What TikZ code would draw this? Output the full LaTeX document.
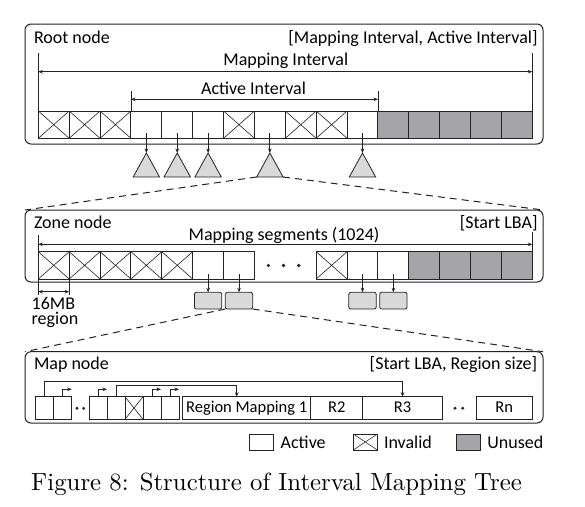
\documentclass[tikz,border=0pt]{standalone}
\usepackage{fontspec}
\setsansfont{Carlito}
\newfontfamily\capfont{lmroman10-regular}[Extension=.otf]
\usetikzlibrary{arrows.meta,calc}
\definecolor{ln}{RGB}{35,35,35}
\definecolor{unusedc}{RGB}{165,164,168}
\definecolor{lite}{RGB}{217,217,217}
\tikzset{
  panel/.style={draw=ln, line width=1pt, rounded corners=6pt, inner sep=0, outer sep=0, anchor=north west},
  cellbox/.style={draw=ln, line width=0.9pt, minimum width=30.875pt, minimum height=27.3pt, inner sep=0, outer sep=0, anchor=north west},
  mcell/.style={draw=ln, line width=0.9pt, minimum width=18pt, minimum height=22.6pt, inner sep=0, outer sep=0, anchor=north west},
  rbox/.style={draw=ln, line width=0.9pt, minimum height=22.6pt, inner sep=0, outer sep=0, anchor=north west, text height=12.6pt, text depth=4pt, font=\sffamily\fontsize{16.5}{19}\selectfont},
  active/.style={},
  invalid/.style={path picture={\draw[ln, line width=0.6pt] (path picture bounding box.north west)--(path picture bounding box.south east) (path picture bounding box.south west)--(path picture bounding box.north east);}},
  unused/.style={fill=unusedc},
  gbox/.style={draw=ln, line width=0.8pt, fill=lite, rounded corners=2pt, minimum width=27.4pt, minimum height=16.7pt, inner sep=0, outer sep=0, anchor=north},
  legbox/.style={draw=ln, line width=0.8pt, minimum width=24pt, minimum height=16pt, inner sep=0, outer sep=0, anchor=north west},
  arr/.style={draw=ln, line width=0.8pt, -{Stealth[length=4.5pt,width=3.6pt]}},
  dimarr/.style={draw=ln, line width=0.8pt, {Stealth[length=4.5pt,width=3.6pt]}-{Stealth[length=4.5pt,width=3.6pt]}},
  plain/.style={draw=ln, line width=0.8pt},
  tri/.style={draw=ln, line width=0.8pt, fill=lite},
  dashline/.style={draw=ln, line width=1pt, dash pattern=on 7pt off 5pt},
  lab/.style={inner sep=0, outer sep=0},
  dotc/.style={fill=ln, draw=none}
}
\begin{document}
\begin{tikzpicture}[x=1pt,y=-1pt, font=\sffamily\fontsize{18}{21}\selectfont]
\useasboundingbox[fill=white] (0,0) rectangle (585,506);

% ---------------- Root node
\node[panel, minimum width=518pt, minimum height=120pt] (root) at (25,24) {};
\node[lab, anchor=base west] (rootlab) at (34,43.5) {Root node};
\node[lab, anchor=base east] (rootpar) at (537.5,43.5) {[Mapping Interval, Active Interval]};
\foreach \i/\t in {0/invalid,1/invalid,2/invalid,3/active,4/active,5/active,6/invalid,7/active,8/invalid,9/invalid,10/active,11/unused,12/unused,13/unused,14/unused,15/unused}
  \node[cellbox,\t] (r\i) at ({38.3+\i*30.875},111) {};
% mapping interval
\coordinate (miL) at (38.3,53);
\coordinate (miR) at (532.3,53);
\draw[plain] (miL) -- (r0.north west);
\draw[plain] (miR) -- (r15.north east);
\coordinate (miaL) at (38.3,71.7);
\coordinate (miaR) at (532.3,71.7);
\draw[dimarr] (miaL) -- (miaR);
\node[lab, anchor=base] (milab) at (285.8,65.7) {Mapping Interval};
% active interval
\coordinate (aiL) at (130.925,91);
\coordinate (aiR) at (377.925,91);
\draw[plain] (aiL) -- (r3.north west);
\draw[plain] (aiR) -- (r11.north west);
\coordinate (aiaL) at (130.925,99.3);
\coordinate (aiaR) at (377.925,99.3);
\draw[dimarr] (aiaL) -- (aiaR);
\node[lab, anchor=base] (ailab) at (253.5,94) {Active Interval};
% triangles
\foreach \k in {3,4,5,7,10}{
  \coordinate (t\k a) at ($(r\k.south)+(0,14.7)$);
  \coordinate (t\k l) at ($(r\k.south)+(-13.2,38.7)$);
  \coordinate (t\k r) at ($(r\k.south)+(13.2,38.7)$);
  \draw[tri] (t\k a) -- (t\k r) -- (t\k l) -- cycle;
  \draw[arr] ([yshift=5pt]r\k.south) -- (t\k a);
}

% ---------------- Zone node
\node[panel, minimum width=518pt, minimum height=72pt] (zone) at (25,210) {};
\draw[dashline] (t7l) -- (zone.north west);
\draw[dashline] (t7r) -- (zone.north east);
\node[lab, anchor=base west] (zonelab) at (34,228.3) {Zone node};
\node[lab, anchor=base east] (zonepar) at (537.5,228.3) {[Start LBA]};
\foreach \i/\t in {0/invalid,1/invalid,2/invalid,3/invalid,4/invalid,5/active,6/active,9/invalid,10/active,11/active,12/unused,13/unused,14/unused,15/unused}
  \node[cellbox,\t] (z\i) at ({38.3+\i*30.875},251.7) {};
\foreach \x in {268.3,283.5,298.7}
  \fill[dotc] (\x,265.5) circle (1.8pt);
\coordinate (msL) at (38.3,235);
\coordinate (msR) at (532.3,232);
\draw[plain] (msL) -- (z0.north west);
\draw[plain] (msR) -- (z15.north east);
\coordinate (msaL) at (38.3,244.3);
\coordinate (msaR) at (532.3,244.3);
\draw[dimarr] (msaL) -- (msaR);
\node[lab, anchor=base] (mslab) at (284,240) {Mapping segments (1024)};
% 16MB region
\coordinate (rgL) at (38.3,294.5);
\coordinate (rgR) at (69.175,294.5);
\draw[plain] (z0.south west) -- (rgL);
\draw[plain] (z0.south east) -- (rgR);
\coordinate (rgaL) at (38.3,291.7);
\coordinate (rgaR) at (69.175,291.7);
\draw[dimarr] (rgaL) -- (rgaR);
\node[lab, anchor=north west, align=left, font=\sffamily\fontsize{18}{18}\selectfont] (rglab) at (31.7,297.6) {16MB\\[-3.2pt]region};
% gray boxes
\foreach \k/\g in {5/1,6/2,10/3,11/4}{
  \node[gbox] (g\g) at ($(z\k.south)+(0,13.3)$) {};
  \draw[arr] ([yshift=5pt]z\k.south) -- (g\g.north);
}

% ---------------- Map node
\node[panel, minimum width=518pt, minimum height=71.3pt] (map) at (25,351.7) {};
\draw[dashline] (g2.south west) -- (map.north west);
\draw[dashline] (g2.south east) -- (map.north east);
\node[lab, anchor=base west] (maplab) at (34,369.3) {Map node};
\node[lab, anchor=base east] (mappar) at (537,369.3) {[Start LBA, Region size]};
\node[mcell] (m0) at (35.7,396.7) {};
\node[mcell] (m1) at (53.7,396.7) {};
\fill[dotc] (77,408.3) circle (1.6pt);
\fill[dotc] (83.7,408.3) circle (1.6pt);
\node[mcell] (m2) at (89,396.7) {};
\node[mcell] (m3) at (107,396.7) {};
\node[mcell,invalid] (m4) at (125,396.7) {};
\node[mcell] (m5) at (143,396.7) {};
\node[mcell] (m6) at (161,396.7) {};
\node[rbox, minimum width=128pt] (rm1) at (182.7,396.7) {Region Mapping 1};
\node[rbox, minimum width=52pt] (rr2) at (310.7,396.7) {R2};
\node[rbox, minimum width=79.6pt] (rr3) at (362.7,396.7) {R3};
\fill[dotc] (455,408.3) circle (1.6pt);
\fill[dotc] (462.7,408.3) circle (1.6pt);
\node[rbox, minimum width=56.3pt] (rrn) at (476,396.7) {Rn};
\draw[arr] (m0.north) -- ++(0,-15) -| (rr3.north);
\draw[arr] (m3.north) -- ++(0,-11.7) -| ([xshift=-10pt]rm1.north);
\foreach \k in {1,2,5,6}
  \draw[arr] (m\k.north) |- ([yshift=7.4pt]m\k.north east);

% ---------------- Legend
\node[legbox] (lga) at (249.3,434) {};
\node[lab, anchor=west] (lgat) at (280.7,442) {Active};
\node[legbox,invalid] (lgi) at (353.3,434) {};
\node[lab, anchor=west] (lgit) at (384,442) {Invalid};
\node[legbox,unused] (lgu) at (456.7,434) {};
\node[lab, anchor=west] (lgut) at (487.3,442) {Unused};

% ---------------- Caption
\node[lab, anchor=base, font=\capfont\fontsize{24.8}{30}\selectfont] (cap) at (276.5,490.7) {Figure 8: Structure of Interval Mapping Tree};
\end{tikzpicture}
\end{document}
